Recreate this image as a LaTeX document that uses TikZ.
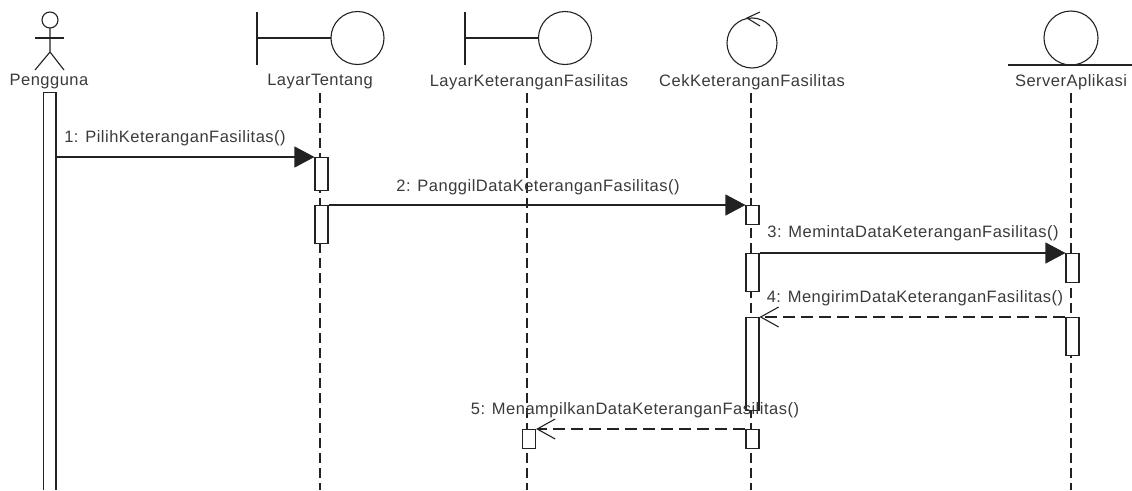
\documentclass[tikz,border=0pt]{standalone}
\usepackage{fontspec}
\setmainfont[LetterSpace=3]{Liberation Sans}
\usetikzlibrary{arrows.meta}
\definecolor{inkline}{HTML}{222222}
\definecolor{inktext}{HTML}{3A3A3A}
\tikzset{
    lifeline/.style={draw=inkline,line width=1.1pt,dash pattern=on 10pt off 5pt},
    actbox/.style={draw=inkline,fill=white,line width=1.1pt,minimum width=13pt,inner sep=0pt,anchor=north},
    msgcall/.style={draw=inkline,line width=1.1pt,-{Triangle[length=20pt,width=21pt]}},
    msgback/.style={draw=inkline,line width=1.1pt,dash pattern=on 12pt off 6pt,-{Straight Barb[length=18pt,width=20pt]}},
    figure/.style={draw=inkline,line width=1.1pt},
    lbl/.style={text=inktext,inner sep=0pt,font=\fontsize{16.5}{18}\selectfont}
}
\begin{document}
\begin{tikzpicture}[x=1pt,y=-1pt]
    \useasboundingbox (0,0) rectangle (1132,490);
    %% lifelines
    \coordinate (layarTop) at (320,93);
    \coordinate (layarEnd) at (320,490);
    \coordinate (fasTop) at (527,93);
    \coordinate (fasEnd) at (527,490);
    \coordinate (cekTop) at (751,93);
    \coordinate (cekEnd) at (751,490);
    \coordinate (serverTop) at (1071,93);
    \coordinate (serverEnd) at (1071,490);
    \draw[lifeline] (layarTop) -- (layarEnd);
    \draw[lifeline] (fasTop) -- (fasEnd);
    \draw[lifeline] (cekTop) -- (cekEnd);
    \draw[lifeline] (serverTop) -- (serverEnd);
    %% actor
    \draw[figure] (50,20) circle[radius=8];
    \draw[figure] (35,38) -- (64,38);
    \draw[figure] (50,28) -- (50,52) -- (35,70);
    \draw[figure] (50,52) -- (64,70);
    %% boundary
    \draw[figure] (257,12) -- (257,65);
    \draw[figure] (257,38) -- (331,38);
    \draw[figure] (357.5,38) circle[radius=26.5];
    \draw[figure] (465,12) -- (465,65);
    \draw[figure] (465,38) -- (538,38);
    \draw[figure] (565,38) circle[radius=26.5];
    %% control
    \draw[figure] (752,43) circle[radius=25];
    \draw[figure] (760,12) -- (747,18) -- (760,26);
    %% entity
    \draw[figure] (1071,38) circle[radius=27];
    \draw[figure] (1008,65) -- (1132,65);
    %% names
    \node[lbl] (pengguna) at (49,82) {Pengguna};
    \node[lbl] (layarTentang) at (320,82) {LayarTentang};
    \node[lbl] (layarFas) at (529,82) {LayarKeteranganFasilitas};
    \node[lbl] (cekFas) at (752,82) {CekKeteranganFasilitas};
    \node[lbl] (server) at (1071,82) {ServerAplikasi};
    %% activations
    \draw[figure,fill=white] (43.5,490) |- (56,92.5) -- (56,490);
    \coordinate (penggunaA) at (56,157);
    \node[actbox,minimum height=33pt] (layarA) at (321.5,157) {};
    \node[actbox,minimum height=38pt] (layarB) at (321.5,205) {};
    \node[actbox,minimum height=19pt] (cekA) at (752.5,205) {};
    \node[actbox,minimum height=38pt] (cekB) at (752.5,253) {};
    \node[actbox,minimum height=93pt] (cekC) at (752.5,317) {};
    \node[actbox,minimum height=19pt] (cekD) at (752.5,429) {};
    \node[actbox,minimum height=29pt] (serverA) at (1072.5,253) {};
    \node[actbox,minimum height=38pt] (serverB) at (1072.5,317) {};
    \node[actbox,minimum height=19pt] (fasA) at (529,429) {};
    %% messages
    \draw[msgcall] (penggunaA) -- (layarA.north west);
    \draw[msgcall] (layarB.north east) -- (cekA.north west);
    \draw[msgcall] (cekB.north east) -- (serverA.north west);
    \draw[msgback] (serverB.north west) -- (cekC.north east);
    \draw[msgback] (cekD.north west) -- (fasA.north east);
    %% message labels
    \node[lbl] (msgA) at (175,138) {1: PilihKeteranganFasilitas()};
    \node[lbl] (msgB) at (538,187) {2: PanggilDataKeteranganFasilitas()};
    \node[lbl] (msgC) at (913,233) {3: MemintaDataKeteranganFasilitas()};
    \node[lbl] (msgD) at (915,298) {4: MengirimDataKeteranganFasilitas()};
    \node[lbl] (msgE) at (635,410) {5: MenampilkanDataKeteranganFasilitas()};
\end{tikzpicture}
\end{document}
